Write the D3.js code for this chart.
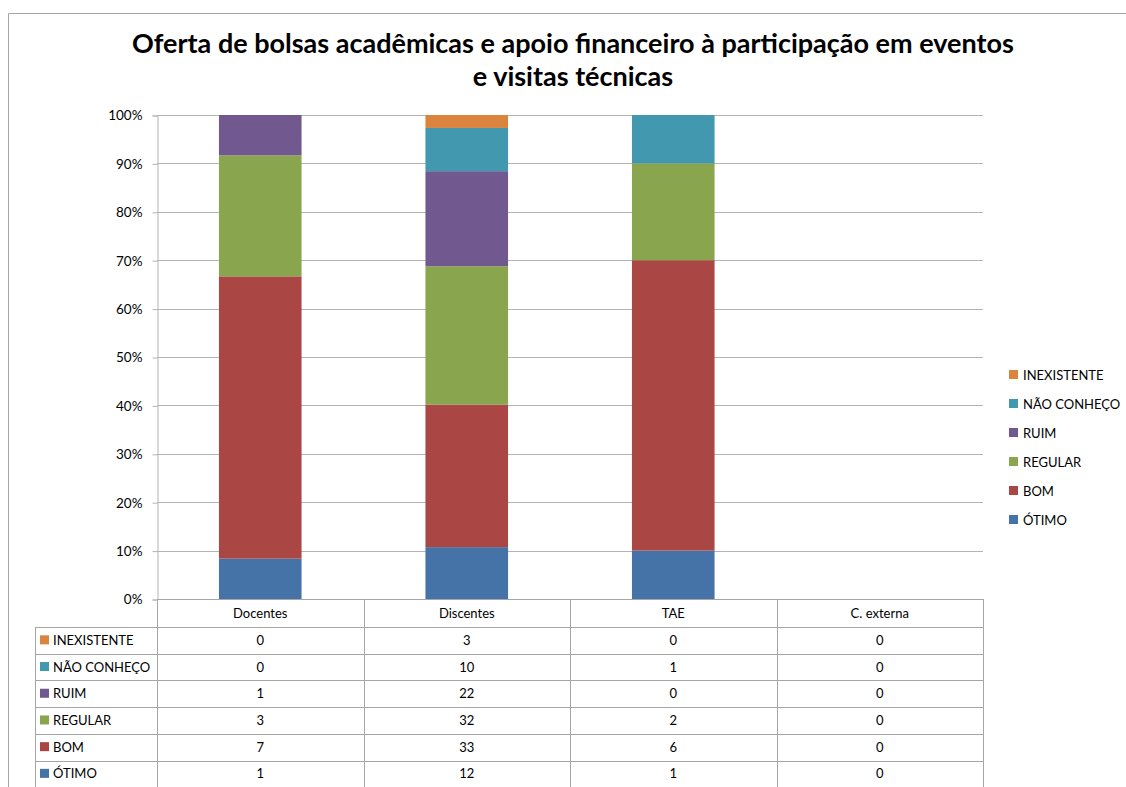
<!DOCTYPE html>
<html>
<head>
<meta charset="utf-8">
<script src="https://cdn.jsdelivr.net/npm/d3@7"></script>
<style>
  html, body { margin: 0; padding: 0; background: #fff; }
  svg text { font-family: Lato, "Open Sans", "DejaVu Sans", sans-serif; }
</style>
</head>
<body>
<svg id="chart" width="1126" height="787"></svg>
<script>
// Respondent groups (columns) and answer categories (stack order, bottom to top)
const categories = ["Docentes", "Discentes", "TAE", "C. externa"];
const seriesNames = ["ÓTIMO", "BOM", "REGULAR", "RUIM", "NÃO CONHEÇO", "INEXISTENTE"];
const otimo       = [1, 12, 1, 0];
const bom         = [7, 33, 6, 0];
const regular     = [3, 32, 2, 0];
const ruim        = [1, 22, 0, 0];
const naoConheco  = [0, 10, 1, 0];
const inexistente = [0, 3, 0, 0];
const seriesValues = [otimo, bom, regular, ruim, naoConheco, inexistente];
const seriesColors = ["#4572A7", "#AA4643", "#89A54E", "#71588F", "#4198AF", "#DB843D"];
const yTicks = [0, 0.1, 0.2, 0.3, 0.4, 0.5, 0.6, 0.7, 0.8, 0.9, 1.0];
const titleLines = ["Oferta de bolsas acadêmicas e apoio financeiro à participação em eventos", "e visitas técnicas"];

const svg = d3.select("#chart");
const gridColor = "#b4b4b4";

// Outer frame (top and left edges visible)
svg.append("line").attr("x1", 8.5).attr("y1", 13.5).attr("x2", 1126).attr("y2", 13.5)
  .attr("stroke", "#a6a6a6").attr("stroke-width", 1);
svg.append("line").attr("x1", 8.5).attr("y1", 13.5).attr("x2", 8.5).attr("y2", 787)
  .attr("stroke", "#a6a6a6").attr("stroke-width", 1);

// Title
const title = svg.append("text").attr("text-anchor", "middle")
  .attr("font-weight", "bold").attr("font-size", 27).attr("fill", "#000");
titleLines.forEach((t, i) => {
  title.append("tspan").attr("x", 573).attr("y", 53 + i * 33).text(t);
});

// Plot geometry
const plot = { left: 157, right: 983, top: 115, bottom: 599 };

const x = d3.scaleBand().domain(categories).range([plot.left, plot.right]).paddingInner(0).paddingOuter(0);
const y = d3.scaleLinear().domain([0, 1]).range([plot.bottom, plot.top]);

// Gridlines
svg.append("g").selectAll("line").data(yTicks.filter(d => d > 0)).join("line")
  .attr("x1", plot.left).attr("x2", plot.right)
  .attr("y1", d => Math.round(y(d)) + 0.5).attr("y2", d => Math.round(y(d)) + 0.5)
  .attr("stroke", gridColor).attr("stroke-width", 1);

// Y axis
const yAxis = svg.append("g").attr("transform", `translate(${plot.left + 0.5},0.5)`)
  .call(d3.axisLeft(y).tickValues(yTicks).tickFormat(d3.format(".0%")).tickSize(5).tickPadding(10));
yAxis.select(".domain").attr("stroke", gridColor);
yAxis.selectAll(".tick line").attr("stroke", gridColor);
yAxis.selectAll(".tick text").attr("font-size", 13.5).attr("fill", "#000")
  .style("font-family", "Lato, 'Open Sans', sans-serif");

// Stacked 100% columns
const rows = categories.map((c, i) => {
  const r = { category: c };
  seriesNames.forEach((s, k) => { r[s] = seriesValues[k][i]; });
  return r;
});
const stacked = d3.stack().keys(seriesNames).offset(d3.stackOffsetExpand)(rows);
const barW = x.bandwidth() * 0.4;

svg.append("g").selectAll("g").data(stacked).join("g")
  .attr("fill", (d, i) => seriesColors[i])
  .selectAll("rect").data(d => d.filter(p => !isNaN(p[1]) && p[1] - p[0] > 0)).join("rect")
  .attr("x", d => x(d.data.category) + (x.bandwidth() - barW) / 2)
  .attr("width", barW)
  .attr("y", d => y(d[1]))
  .attr("height", d => y(d[0]) - y(d[1]));

// Legend (right side, top to bottom: reverse stack order)
const legend = svg.append("g");
seriesNames.slice().reverse().forEach((s, i) => {
  const k = seriesNames.length - 1 - i;
  const cy = 375 + i * 29;
  legend.append("rect").attr("x", 1009).attr("y", cy - 5).attr("width", 9).attr("height", 9)
    .attr("fill", seriesColors[k]);
  legend.append("text").attr("x", 1023).attr("y", cy + 4.5).attr("font-size", 13)
    .attr("fill", "#000").text(s);
});

// Data table under the plot
const table = svg.append("g");
const headerTop = plot.bottom, headerBottom = 627;
const rowH = 26.7;
const tableLeft = 35;
const tableColor = "#a6a6a6";
const tableRows = seriesNames.slice().reverse();
const tableBottom = headerBottom + rowH * tableRows.length;

// Header cells
x.domain().forEach(c => {
  table.append("text").attr("x", x(c) + x.bandwidth() / 2).attr("y", (headerTop + headerBottom) / 2 + 4.5)
    .attr("text-anchor", "middle").attr("font-size", 13).attr("fill", "#000").text(c);
});
// Vertical lines
[plot.left].concat(categories.map(c => x(c) + x.bandwidth())).forEach((vx, i) => {
  table.append("line").attr("x1", Math.round(vx) + 0.5).attr("x2", Math.round(vx) + 0.5)
    .attr("y1", headerTop).attr("y2", tableBottom).attr("stroke", tableColor);
});
table.append("line").attr("x1", tableLeft + 0.5).attr("x2", tableLeft + 0.5)
  .attr("y1", headerBottom).attr("y2", tableBottom).attr("stroke", tableColor);
// Horizontal lines
table.append("line").attr("x1", plot.left).attr("x2", plot.right)
  .attr("y1", headerTop + 0.5).attr("y2", headerTop + 0.5).attr("stroke", tableColor);
d3.range(tableRows.length + 1).forEach(i => {
  const ly = Math.round(headerBottom + i * rowH) + 0.5;
  table.append("line").attr("x1", tableLeft).attr("x2", plot.right)
    .attr("y1", ly).attr("y2", ly).attr("stroke", tableColor);
});
// Row content
tableRows.forEach((s, i) => {
  const k = seriesNames.indexOf(s);
  const cy = headerBottom + i * rowH + rowH / 2;
  table.append("rect").attr("x", 40).attr("y", cy - 5).attr("width", 9).attr("height", 9)
    .attr("fill", seriesColors[k]);
  table.append("text").attr("x", 53).attr("y", cy + 4.5).attr("font-size", 13)
    .attr("fill", "#000").text(s);
  categories.forEach((c, j) => {
    table.append("text").attr("x", x(c) + x.bandwidth() / 2).attr("y", cy + 4.5)
      .attr("text-anchor", "middle").attr("font-size", 13).attr("fill", "#000")
      .text(seriesValues[k][j]);
  });
});
</script>
</body>
</html>
